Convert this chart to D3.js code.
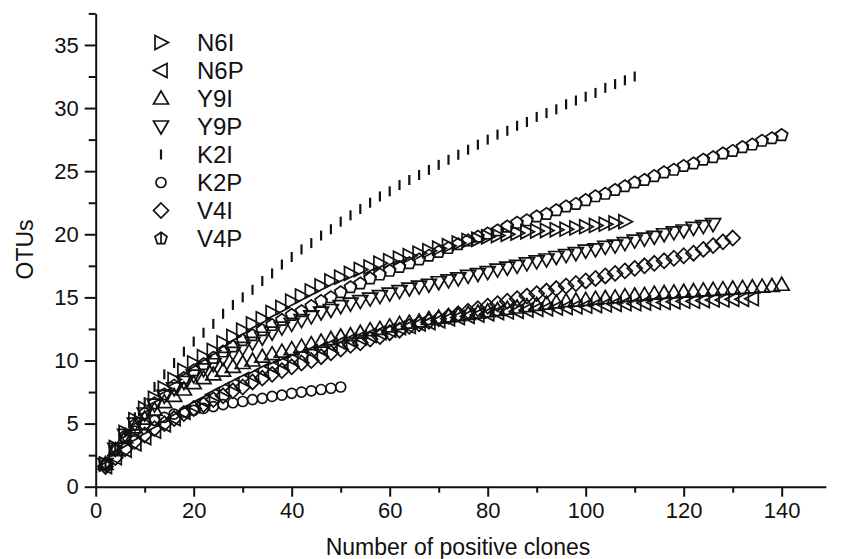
<!DOCTYPE html>
<html lang="en">
<head>
<meta charset="UTF-8">
<title>OTU rarefaction curves</title>
<script src="https://cdn.jsdelivr.net/npm/d3@7"></script>
<style>
    body {margin: 0; background: #fff}
    text {font-family: "Liberation Sans", Arial, sans-serif; fill: #111}
    .axis path, .axis line {stroke: #111; stroke-width: 2}
</style>
</head>
<body>
<script>
    const width = 850;
    const height = 559;

    // clone counts sampled every 2 clones
    const clones = [2,4,6,8,10,12,14,16,18,20,22,24,26,28,30,32,34,36,38,40,
        42,44,46,48,50,52,54,56,58,60,62,64,66,68,70,72,74,76,78,80,
        82,84,86,88,90,92,94,96,98,100,102,104,106,108,110,112,114,116,118,120,
        122,124,126,128,130,132,134,136,138,140];

    const names = ["N6I", "N6P", "Y9I", "Y9P", "K2I", "K2P", "V4I", "V4P"];
    const symbols = ["right", "left", "up", "down", "bar", "circle", "diamond", "pentagon"];

    const n6i = [1.8,3.1,4.3,5.3,6.2,7.0,7.8,8.5,9.2,9.8,10.3,10.8,11.4,11.9,12.4,12.9,13.3,13.8,14.2,14.7,
        15.1,15.5,15.9,16.3,16.6,16.9,17.2,17.4,17.7,17.9,18.1,18.3,18.5,18.7,18.9,19.1,19.3,19.5,19.6,19.8,
        19.9,20.0,20.1,20.2,20.25,20.3,20.35,20.4,20.5,20.6,20.7,20.8,20.9,21.0];
    const n6p = [1.6,2.3,2.9,3.4,3.9,4.4,4.9,5.4,5.9,6.4,6.8,7.3,7.7,8.1,8.5,8.8,9.2,9.5,9.8,10.1,
        10.4,10.7,10.9,11.2,11.4,11.6,11.8,12.0,12.2,12.4,12.6,12.7,12.9,13.0,13.15,13.3,13.4,13.5,13.6,13.7,
        13.8,13.85,13.9,14.0,14.05,14.1,14.15,14.2,14.25,14.3,14.35,14.4,14.45,14.5,14.5,14.55,14.6,14.6,14.65,14.7,
        14.7,14.75,14.8,14.8,14.85,14.85,14.9];
    const y9i = [1.8,2.9,3.9,4.7,5.4,6.1,6.7,7.2,7.7,8.2,8.6,8.9,9.2,9.5,9.8,10.0,10.3,10.5,10.7,10.9,
        11.1,11.3,11.5,11.7,11.9,12.0,12.2,12.4,12.5,12.7,12.9,13.0,13.1,13.3,13.4,13.5,13.6,13.7,13.8,13.9,
        14.0,14.1,14.2,14.3,14.4,14.5,14.6,14.7,14.75,14.8,14.9,14.95,15.0,15.1,15.15,15.2,15.3,15.35,15.4,15.45,
        15.5,15.55,15.6,15.65,15.7,15.75,15.8,15.85,15.9,16.0];
    const y9p = [1.8,3.0,4.1,5.0,5.8,6.5,7.2,7.8,8.3,8.8,9.3,9.7,10.2,10.6,11.0,11.4,11.8,12.2,12.6,12.9,
        13.2,13.5,13.8,14.0,14.3,14.5,14.7,14.9,15.1,15.3,15.5,15.7,15.85,16.0,16.2,16.35,16.5,16.7,16.85,17.0,
        17.2,17.35,17.5,17.7,17.85,18.0,18.2,18.35,18.5,18.7,18.8,19.0,19.1,19.3,19.5,19.65,19.8,20.0,20.15,20.3,
        20.5,20.65,20.8];
    const k2i = [1.8,3.1,4.3,5.5,6.7,7.9,8.9,9.8,10.7,11.5,12.2,12.9,13.7,14.4,15.0,15.6,16.3,16.9,17.6,18.2,
        18.8,19.3,19.9,20.4,21.0,21.5,22.0,22.5,23.0,23.4,23.9,24.3,24.7,25.1,25.5,25.9,26.3,26.7,27.1,27.5,
        27.9,28.2,28.6,28.9,29.3,29.6,29.9,30.3,30.6,30.9,31.2,31.6,31.9,32.2,32.5];
    const k2p = [1.7,2.9,3.8,4.4,4.9,5.25,5.5,5.75,5.9,6.05,6.2,6.35,6.5,6.65,6.75,6.9,7.0,7.15,7.25,7.4,
        7.5,7.6,7.7,7.8,7.9];
    const v4i = [1.6,2.3,3.0,3.6,4.1,4.6,5.0,5.4,5.8,6.2,6.5,6.9,7.2,7.6,7.9,8.3,8.6,8.9,9.2,9.5,
        9.8,10.0,10.3,10.6,10.9,11.2,11.4,11.7,11.9,12.2,12.4,12.7,12.9,13.1,13.3,13.5,13.7,13.9,14.1,14.3,
        14.5,14.7,14.9,15.1,15.3,15.5,15.7,15.9,16.1,16.3,16.5,16.7,16.9,17.1,17.3,17.5,17.7,17.9,18.1,18.3,
        18.5,18.8,19.1,19.4,19.7];
    const v4p = [1.8,3.0,4.0,4.9,5.8,6.6,7.3,8.0,8.6,9.2,9.7,10.2,10.7,11.1,11.6,12.0,12.4,12.8,13.2,13.6,
        13.9,14.3,14.7,15.0,15.4,15.8,16.1,16.5,16.8,17.1,17.4,17.7,18.0,18.3,18.6,18.9,19.2,19.5,19.8,20.05,
        20.3,20.6,20.9,21.1,21.4,21.6,21.9,22.2,22.4,22.7,23.0,23.2,23.5,23.8,24.1,24.3,24.6,24.9,25.1,25.4,
        25.6,25.9,26.1,26.4,26.6,26.9,27.1,27.4,27.6,27.85];

    const seriesValues = [n6i, n6p, y9i, y9p, k2i, k2p, v4i, v4p];

    const xTicks = [0, 20, 40, 60, 80, 100, 120, 140];
    const xMinor = [10, 30, 50, 70, 90, 110, 130];
    const yTicks = [0, 5, 10, 15, 20, 25, 30, 35];
    const yMinor = [2.5, 7.5, 12.5, 17.5, 22.5, 27.5, 32.5, 37.5];

    const margin = {left: 95.7, bottom: 72.3, top: 13.4};
    const x = d3.scaleLinear().domain([0, 149]).range([margin.left, 825.8]);
    const y = d3.scaleLinear().domain([0, 37.5]).range([height - margin.bottom, margin.top]);

    const svg = d3.select("body").append("svg")
        .attr("width", width).attr("height", height);

    // marker shapes, drawn around 0,0
    function shape(kind) {
        switch (kind) {
            case "right":    return "M-6,-7L7.5,0L-6,7Z";
            case "left":     return "M6,-7L-7.5,0L6,7Z";
            case "up":       return "M0,-7.5L7.5,5.5L-7.5,5.5Z";
            case "down":     return "M0,7.5L7.5,-5.5L-7.5,-5.5Z";
            case "bar":      return "M0,-5L0,5";
            case "circle":   return "M5,0A5,5 0 1,1 -5,0A5,5 0 1,1 5,0Z";
            case "diamond":  return "M0,-7.5L7.5,0L0,7.5L-7.5,0Z";
            case "pentagon": return "M0,-6.3L6,-2L3.7,5.1L-3.7,5.1L-6,-2Z";
        }
    }

    // axes
    svg.append("g").attr("class", "axis")
        .attr("transform", `translate(0,${y(0)})`)
        .call(d3.axisBottom(x).tickValues(xTicks).tickSize(10).tickSizeOuter(0).tickPadding(6));
    svg.append("g").attr("class", "axis")
        .attr("transform", `translate(0,${y(0)})`)
        .call(d3.axisBottom(x).tickValues(xMinor).tickSize(6).tickFormat("").tickSizeOuter(0))
        .select(".domain").remove();

    svg.append("g").attr("class", "axis")
        .attr("transform", `translate(${x(0)},0)`)
        .call(d3.axisLeft(y).tickValues(yTicks).tickSize(11).tickSizeOuter(0).tickPadding(6));
    svg.append("g").attr("class", "axis")
        .attr("transform", `translate(${x(0)},0)`)
        .call(d3.axisLeft(y).tickValues(yMinor).tickSize(7).tickFormat("").tickSizeOuter(0))
        .select(".domain").remove();

    svg.selectAll(".axis text").style("font-size", "22px").style("fill", "#111");

    svg.append("text")
        .attr("x", 458).attr("y", 555)
        .attr("text-anchor", "middle")
        .style("font-size", "23px")
        .text("Number of positive clones");

    svg.append("text")
        .attr("transform", `translate(33,${y(18.8)}) rotate(-90)`)
        .attr("text-anchor", "middle")
        .style("font-size", "23px")
        .text("OTUs");

    // series markers
    const chart = svg.append("g");
    seriesValues.forEach((vals, i) => {
        const kind = symbols[i];
        chart.append("g")
            .selectAll("path")
            .data(vals.map((v, j) => [clones[j], v]))
            .join("path")
            .attr("transform", d => `translate(${x(d[0])},${y(d[1])})`)
            .attr("d", shape(kind))
            .attr("fill", "none")
            .attr("stroke", "#111")
            .attr("stroke-width", kind === "bar" ? 2.2 : 1.7);
    });

    // legend
    const legend = svg.append("g").attr("transform", "translate(161,42.5)");
    names.forEach((name, i) => {
        const row = legend.append("g").attr("transform", `translate(0,${i * 28})`);
        row.append("path")
            .attr("d", shape(symbols[i]) + (symbols[i] === "pentagon" ? "M0,-6.3L0,5.1" : ""))
            .attr("fill", "none")
            .attr("stroke", "#111")
            .attr("stroke-width", symbols[i] === "bar" ? 2.2 : 1.7);
        row.append("text")
            .attr("x", 36).attr("y", 0)
            .attr("dy", "0.36em")
            .style("font-size", "24px")
            .text(name);
    });
</script>
</body>
</html>
